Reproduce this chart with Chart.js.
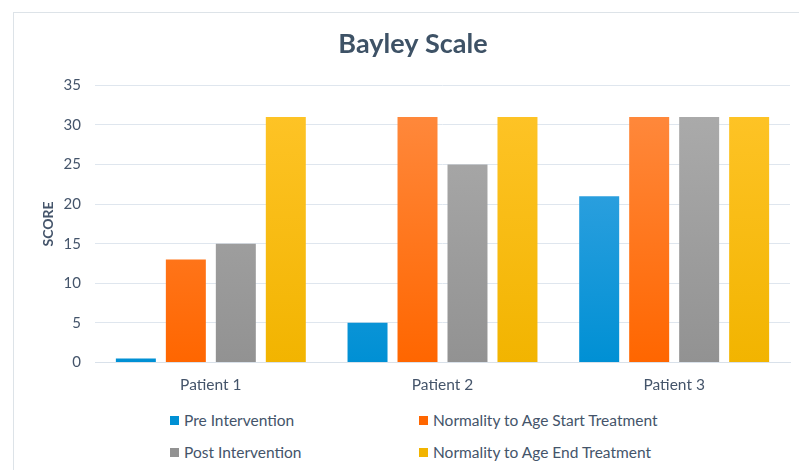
<!DOCTYPE html>
<html>
<head>
<meta charset="utf-8">
<script src="https://cdn.jsdelivr.net/npm/chart.js@4"></script>
<style>
  html, body { margin: 0; padding: 0; background: #fff; }
  body { width: 799px; height: 470px; position: relative; overflow: hidden; font-family: Lato, sans-serif; }
  .frame { position: absolute; left: 13px; top: 12px; width: 820px; height: 480px; border: 1px solid #dde3e8; }
  #wrap { position: absolute; left: 0; top: 0; width: 799px; height: 399px; }
  .legend { position: absolute; left: 170px; top: 410px; display: grid; grid-template-columns: 249px 260px; row-gap: 12px; }
  .legend-item { display: flex; align-items: center; font-size: 15.5px; color: #44546a; height: 20px; }
  .legend-dot { width: 9px; height: 9px; margin-right: 5px; display: inline-block; }
</style>
</head>
<body>
<div class="frame"></div>
<div id="wrap"><canvas id="chart" width="799" height="399"></canvas></div>
<div class="legend" id="legend"></div>
<script>
// ── Data ─────────────────────────────────────────────────────────────────
const categories = ['Patient 1', 'Patient 2', 'Patient 3'];
const seriesNames = [
  'Pre Intervention',
  'Normality to Age Start Treatment',
  'Post Intervention',
  'Normality to Age End Treatment',
];
const preIntervention  = [0.5, 5, 21];
const normalityStart   = [13, 31, 31];
const postIntervention = [15, 25, 31];
const normalityEnd     = [31, 31, 31];
const yTicks = [0, 5, 10, 15, 20, 25, 30, 35];

// ── Colours (top / bottom of each bar gradient) ──────────────────────────
const GRAD = [
  ['#45a8e4', '#0090d4'],
  ['#ff8c42', '#ff6600'],
  ['#adadad', '#929292'],
  ['#ffc52a', '#f2b400'],
];
const TEXT = '#44546a';

function gradFill(i) {
  return ctx => {
    const { chart } = ctx;
    const area = chart.chartArea;
    if (!area) return GRAD[i][1];
    const g = chart.ctx.createLinearGradient(0, area.top, 0, area.bottom);
    g.addColorStop(0, GRAD[i][0]);
    g.addColorStop(1, GRAD[i][1]);
    return g;
  };
}

const values = [preIntervention, normalityStart, postIntervention, normalityEnd];

new Chart(document.getElementById('chart'), {
  type: 'bar',
  data: {
    labels: categories,
    datasets: values.map((v, i) => ({
      label: seriesNames[i],
      data: v,
      backgroundColor: gradFill(i),
      borderWidth: 0,
      barPercentage: 0.8,
      categoryPercentage: 0.863,
    })),
  },
  options: {
    responsive: false,
    animation: false,
    layout: { padding: { left: 36, right: 9, top: 28, bottom: 0 } },
    plugins: {
      legend: { display: false },
      tooltip: { enabled: false },
      title: {
        display: true,
        text: 'Bayley Scale',
        color: '#3e5266',
        font: { family: 'Lato', size: 27, weight: 'bold' },
        padding: { top: 0, bottom: 25 },
      },
    },
    scales: {
      x: {
        grid: { display: false },
        border: { color: '#d9e1ea' },
        ticks: { color: TEXT, font: { family: 'Lato', size: 15.5 }, padding: 5 },
      },
      y: {
        min: 0,
        max: 35,
        afterBuildTicks: axis => { axis.ticks = yTicks.map(v => ({ value: v })); },
        afterFit: axis => { axis.width = 59; },
        grid: { color: '#dfe6ee', drawTicks: false },
        border: { display: false },
        ticks: { color: TEXT, font: { family: 'Lato', size: 15 }, padding: 14 },
        title: {
          display: true,
          text: 'SCORE',
          color: TEXT,
          font: { family: 'Lato', size: 14, weight: 'bold' },
          padding: { top: 4, bottom: 0 },
        },
      },
    },
  },
});

// ── Legend (two columns, drawn from the same series names) ───────────────
document.getElementById('legend').innerHTML = seriesNames.map((name, i) => `
  <span class="legend-item">
    <span class="legend-dot" style="background:${GRAD[i][1]}"></span>${name}
  </span>`).join('');
</script>
</body>
</html>
